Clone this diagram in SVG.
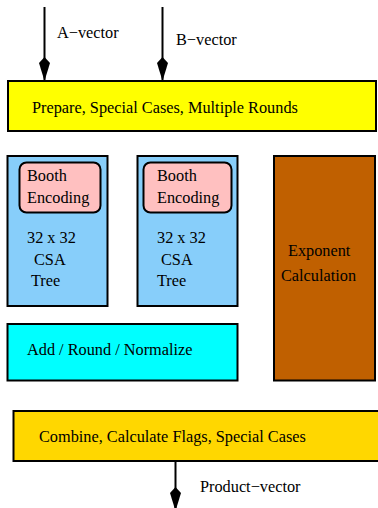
<svg xmlns="http://www.w3.org/2000/svg" width="378" height="508" viewBox="0 0 378 508">
<style>
  .box { stroke: #000; stroke-width: 2; }
  .t { font-family: "Liberation Serif", "Times New Roman", serif; font-size: 16.3px; fill: #000; }
  .wire { stroke: #000; stroke-width: 2; fill: none; marker-end: url(#diamond); }
</style>
<defs>
  <marker id="diamond" viewBox="0 0 24 12" refX="24" refY="6" markerWidth="24" markerHeight="12" markerUnits="userSpaceOnUse" orient="auto">
    <path d="M0,6 L6,0.5 L24,6 L6,11.5 Z" fill="#000"/>
  </marker>
</defs>
<rect width="378" height="508" fill="#fff"/>
<g id="connectors">
  <line class="wire" x1="44.5" y1="7" x2="44.5" y2="81"/>
  <line class="wire" x1="162.5" y1="7" x2="162.5" y2="81"/>
  <line class="wire" x1="175.5" y1="461" x2="175.5" y2="511"/>
  <text class="t" x="57" y="38">A−vector</text>
  <text class="t" x="176" y="45">B−vector</text>
  <text class="t" x="200" y="492">Product−vector</text>
</g>
<g id="prepare">
  <rect class="box" x="8" y="81" width="368" height="50" fill="#ffff00"/>
  <text class="t" x="32" y="113">Prepare, Special Cases, Multiple Rounds</text>
</g>
<g id="tree1">
  <rect class="box" x="7.5" y="156" width="100" height="150" fill="#87cefa"/>
  <text class="t" x="27" y="243">32 x 32</text>
  <text class="t" x="34" y="265">CSA</text>
  <text class="t" x="31" y="286">Tree</text>
</g>
<g id="booth1">
  <rect class="box" x="19.5" y="162.5" width="81" height="50" rx="7" fill="#ffc0c0"/>
  <text class="t" x="27" y="181">Booth</text>
  <text class="t" x="27" y="203">Encoding</text>
</g>
<g id="tree2">
  <rect class="box" x="137.5" y="156" width="100" height="150" fill="#87cefa"/>
  <text class="t" x="157" y="243">32 x 32</text>
  <text class="t" x="161" y="265">CSA</text>
  <text class="t" x="157" y="286">Tree</text>
</g>
<g id="booth2">
  <rect class="box" x="143.5" y="162.5" width="88" height="50" rx="7" fill="#ffc0c0"/>
  <text class="t" x="157" y="181">Booth</text>
  <text class="t" x="157" y="203">Encoding</text>
</g>
<g id="exponent">
  <rect class="box" x="274" y="156" width="101" height="224.5" fill="#c06000"/>
  <text class="t" x="288" y="256">Exponent</text>
  <text class="t" x="281" y="281">Calculation</text>
</g>
<g id="addround">
  <rect class="box" x="7.5" y="324" width="230" height="56.5" fill="#00ffff"/>
  <text class="t" x="27" y="355">Add / Round / Normalize</text>
</g>
<g id="combine">
  <rect class="box" x="13.5" y="411" width="370" height="50" fill="#ffd700"/>
  <text class="t" x="39" y="442">Combine, Calculate Flags, Special Cases</text>
</g>
</svg>
